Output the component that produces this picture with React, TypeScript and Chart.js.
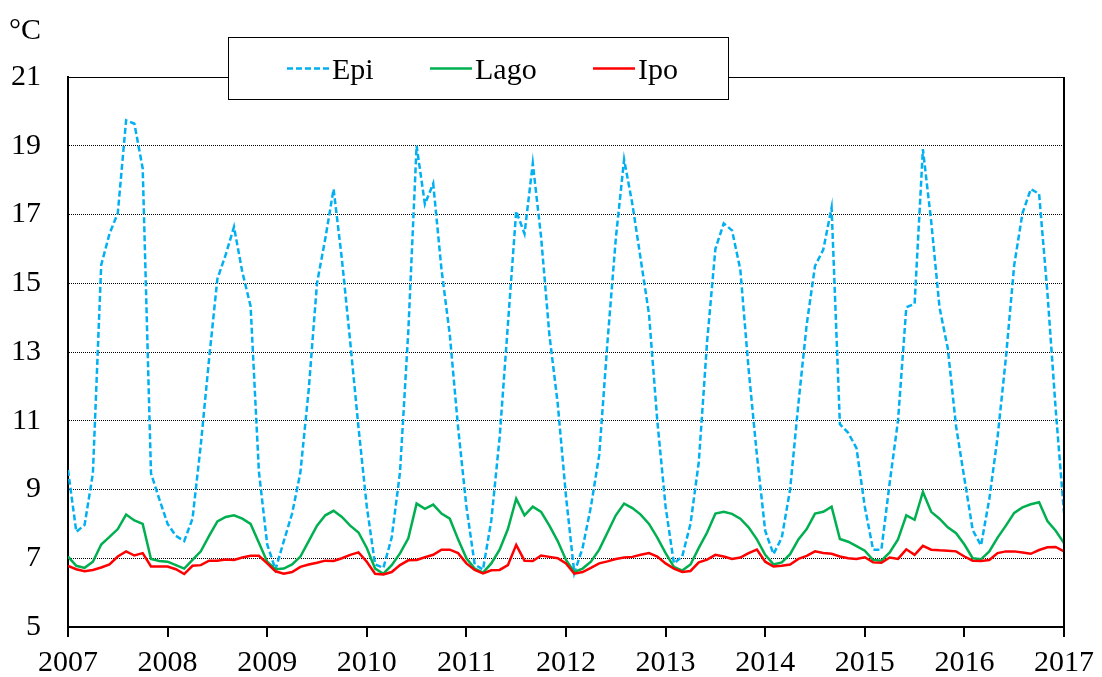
import React, { useEffect, useRef } from "react";
import { Chart, registerables } from "chart.js";

Chart.register(...registerables);

// ---- data (monthly samples, Jan 2007 .. Jan 2017) ----
const startYear = 2007;
const endYear = 2017;
const yMin = 5;
const yMax = 21;
const yStep = 2;
const seriesNames = ["Epi", "Lago", "Ipo"];

const epi = [
  9.57, 7.77, 7.97, 9.47, 15.53, 16.44, 17.04, 19.74, 19.64, 18.34, 9.47, 8.72,
  8.0, 7.65, 7.5, 8.15, 10.3, 12.8, 15.13, 15.83, 16.64, 15.33, 14.33, 9.52,
  7.4, 6.67, 7.5, 8.3, 9.5, 11.9, 15.0, 16.3, 17.74, 15.7, 13.3, 10.8,
  8.5, 6.82, 6.72, 7.6, 9.5, 13.6, 19.0, 17.3, 17.9, 15.4, 13.5, 10.8,
  8.5, 6.82, 6.67, 8.1, 10.5, 13.8, 17.1, 16.44, 18.49, 16.34, 13.5, 11.5,
  8.8, 6.57, 7.3, 8.5, 10.0, 13.3, 16.3, 18.6, 17.3, 15.7, 14.1, 11.0,
  8.5, 6.85, 7.05, 8.0, 9.8, 13.3, 16.0, 16.74, 16.54, 15.4, 12.5, 10.0,
  7.8, 7.12, 7.6, 9.0, 11.5, 13.8, 15.5, 15.98, 17.2, 10.9, 10.65, 10.2,
  8.5, 7.25, 7.25, 9.2, 11.0, 14.3, 14.4, 18.9, 16.8, 14.3, 13.1, 10.83,
  9.32, 7.82, 7.37, 8.72, 10.53, 12.83, 15.53, 17.04, 17.74, 17.6, 14.73, 11.33,
  8.32,
];

const lago = [
  7.05, 6.78, 6.72, 6.9, 7.4, 7.62, 7.85, 8.27, 8.1, 8.0, 6.98, 6.92,
  6.9, 6.8, 6.7, 6.95, 7.2, 7.65, 8.07, 8.2, 8.25, 8.15, 8.0, 7.45,
  6.9, 6.68, 6.7, 6.82, 7.05, 7.5, 7.95, 8.25, 8.38, 8.2, 7.95, 7.75,
  7.3, 6.7, 6.55, 6.8, 7.14, 7.58, 8.59, 8.44, 8.56, 8.3, 8.15, 7.55,
  7.0, 6.7, 6.58, 6.85, 7.25, 7.85, 8.73, 8.25, 8.5, 8.35, 7.95, 7.5,
  6.95, 6.6, 6.7, 6.9, 7.25, 7.75, 8.25, 8.59, 8.46, 8.27, 8.0, 7.6,
  7.15, 6.75, 6.64, 6.82, 7.3, 7.75, 8.3, 8.35, 8.29, 8.15, 7.9, 7.55,
  7.1, 6.82, 6.88, 7.12, 7.55, 7.85, 8.3, 8.35, 8.5, 7.56, 7.48, 7.35,
  7.22, 6.95, 6.93, 7.17, 7.55, 8.25, 8.12, 8.93, 8.35, 8.15, 7.9, 7.73,
  7.4, 7.0, 6.97, 7.2, 7.6, 7.95, 8.32, 8.48, 8.57, 8.63, 8.08, 7.8,
  7.44,
];

const ipo = [
  6.78, 6.68, 6.62, 6.66, 6.73, 6.82, 7.05, 7.2, 7.08, 7.15, 6.76, 6.76,
  6.76, 6.68, 6.54, 6.78, 6.8, 6.93, 6.93, 6.96, 6.95, 7.02, 7.07, 7.07,
  6.85, 6.62, 6.55, 6.6, 6.75, 6.82, 6.87, 6.93, 6.92, 7.0, 7.1, 7.17,
  6.9, 6.55, 6.53, 6.6, 6.8, 6.94, 6.95, 7.03, 7.1, 7.25, 7.25, 7.15,
  6.85, 6.66, 6.56, 6.65, 6.66, 6.8, 7.39, 6.93, 6.92, 7.08, 7.04, 7.0,
  6.85, 6.55, 6.6, 6.72, 6.85, 6.91, 6.98, 7.02, 7.04, 7.1, 7.15, 7.05,
  6.85, 6.7, 6.6, 6.63, 6.88, 6.96, 7.1, 7.05, 6.98, 7.02, 7.15, 7.25,
  6.9, 6.76, 6.78, 6.82, 6.98, 7.07, 7.2, 7.15, 7.13, 7.05, 7.0, 6.98,
  7.03, 6.88, 6.87, 7.02, 6.98, 7.26, 7.1, 7.36, 7.25, 7.23, 7.22, 7.2,
  7.05, 6.93, 6.92, 6.95, 7.15, 7.2, 7.2, 7.17, 7.13, 7.24, 7.32, 7.33,
  7.2,
];

// sample dates as decimal years (one sample per month)
const dates = epi.map((_, i) => startYear + i / 12);

const FONT = "'Liberation Serif', 'Times New Roman', serif";

const boxPlugin = {
  id: "boxLegend",
  afterDraw(chart: any) {
    const { ctx, chartArea: a } = chart;
    ctx.save();
    // frame: top (thin) and right (thick)
    ctx.strokeStyle = "#000";
    ctx.setLineDash([]);
    ctx.lineWidth = 1;
    ctx.beginPath();
    ctx.moveTo(a.left, Math.round(a.top) + 0.5);
    ctx.lineTo(a.right, Math.round(a.top) + 0.5);
    ctx.stroke();
    ctx.lineWidth = 2;
    ctx.beginPath();
    ctx.moveTo(a.right, a.top);
    ctx.lineTo(a.right, a.bottom);
    ctx.stroke();

    // unit label
    ctx.fillStyle = "#000";
    ctx.font = `30px ${FONT}`;
    ctx.textAlign = "left";
    ctx.textBaseline = "alphabetic";
    ctx.fillText("°C", 9, 39);

    // legend box
    ctx.fillStyle = "#fff";
    ctx.fillRect(228.5, 37.5, 500, 62);
    ctx.lineWidth = 1;
    ctx.strokeStyle = "#000";
    ctx.strokeRect(228.5, 37.5, 500, 62);
    const starts = [287, 430, 593];
    chart.data.datasets.forEach((ds: any, i: number) => {
      const x0 = starts[i];
      ctx.save();
      ctx.strokeStyle = ds.borderColor;
      ctx.lineWidth = ds.borderWidth;
      ctx.setLineDash(ds.borderDash || []);
      ctx.beginPath();
      ctx.moveTo(x0, 68.5);
      ctx.lineTo(x0 + 42, 68.5);
      ctx.stroke();
      ctx.restore();
      ctx.fillStyle = "#000";
      ctx.font = `30px ${FONT}`;
      ctx.textBaseline = "alphabetic";
      ctx.fillText(ds.label, x0 + 45, 78.5);
    });
    ctx.restore();
  },
};

export default function App() {
  const ref = useRef<HTMLCanvasElement | null>(null);

  useEffect(() => {
    document.body.style.margin = "0";
    if (!ref.current) return;
    Chart.defaults.font.family = FONT;
    Chart.defaults.font.size = 30;
    Chart.defaults.color = "#000";

    const mk = (vals: number[]) => vals.map((v, i) => ({ x: dates[i], y: v }));

    const chart = new Chart(ref.current, {
      type: "line",
      data: {
        datasets: [
          {
            label: seriesNames[0],
            data: mk(epi),
            borderColor: "#00B0F0",
            borderWidth: 2.5,
            borderDash: [6, 3],
            pointRadius: 0,
            tension: 0,
            order: 3,
          },
          {
            label: seriesNames[1],
            data: mk(lago),
            borderColor: "#00B050",
            borderWidth: 2.5,
            pointRadius: 0,
            tension: 0,
            order: 2,
          },
          {
            label: seriesNames[2],
            data: mk(ipo),
            borderColor: "#FF0000",
            borderWidth: 2.5,
            pointRadius: 0,
            tension: 0,
            order: 1,
          },
        ],
      },
      options: {
        responsive: false,
        animation: false,
        layout: { padding: { left: 0, right: 34, top: 77, bottom: 0 } },
        plugins: {
          legend: { display: false },
          tooltip: { enabled: false },
          title: { display: false },
        },
        scales: {
          x: {
            type: "linear",
            min: startYear,
            max: endYear,
            afterFit: (s: any) => {
              s.height = 50;
            },
            ticks: {
              stepSize: 1,
              padding: 8,
              maxRotation: 0,
              autoSkip: false,
              font: { size: 30, family: FONT },
              callback: (v: any) => String(v),
            },
            grid: {
              display: true,
              drawOnChartArea: false,
              drawTicks: true,
              tickLength: 10,
              tickWidth: 2,
              tickColor: "#000",
              color: "#000",
              lineWidth: 2,
            },
            border: { display: true, color: "#000", width: 2 },
          },
          y: {
            type: "linear",
            min: yMin,
            max: yMax,
            afterFit: (s: any) => {
              s.width = 68;
            },
            ticks: {
              stepSize: yStep,
              padding: 27,
              font: { size: 30, family: FONT },
              callback: (v: any) => String(v),
            },
            grid: {
              drawTicks: false,
              lineWidth: 1,
              color: (c: any) =>
                c.tick && (c.tick.value === yMin || c.tick.value === yMax)
                  ? "rgba(0,0,0,0)"
                  : "#000",
            },
            border: { display: true, color: "#000", width: 2, dash: [1, 1] },
          },
        },
      },
      plugins: [boxPlugin],
    });
    return () => chart.destroy();
  }, []);

  return (
    <div style={{ position: "absolute", left: 0, top: 0, width: 1102, height: 677, background: "#fff" }}>
      <canvas ref={ref} width={1102} height={677} style={{ display: "block" }} />
    </div>
  );
}
